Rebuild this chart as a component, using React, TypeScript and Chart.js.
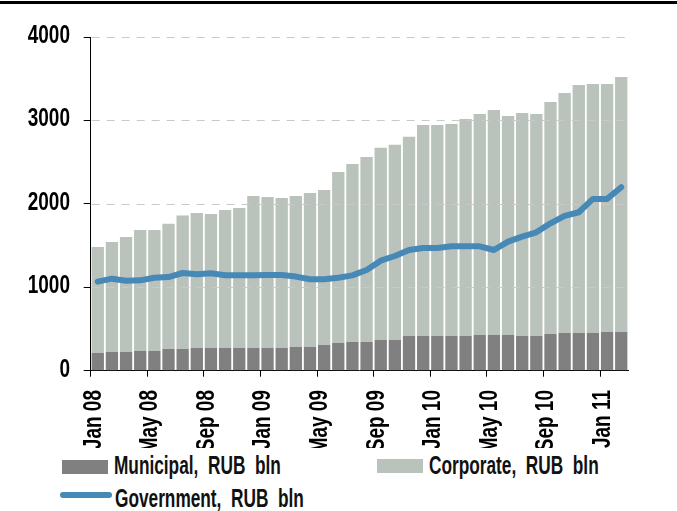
import React, { useEffect, useRef } from "react";
import { Chart, registerables } from "chart.js";

Chart.register(...registerables);

const months = [
  "Jan 08", "Feb 08", "Mar 08", "Apr 08", "May 08", "Jun 08", "Jul 08", "Aug 08", "Sep 08", "Oct 08", "Nov 08", "Dec 08",
  "Jan 09", "Feb 09", "Mar 09", "Apr 09", "May 09", "Jun 09", "Jul 09", "Aug 09", "Sep 09", "Oct 09", "Nov 09", "Dec 09",
  "Jan 10", "Feb 10", "Mar 10", "Apr 10", "May 10", "Jun 10", "Jul 10", "Aug 10", "Sep 10", "Oct 10", "Nov 10", "Dec 10",
  "Jan 11", "Feb 11",
];

const tickLabels = ["Jan 08", "May 08", "Sep 08", "Jan 09", "May 09", "Sep 09", "Jan 10", "May 10", "Sep 10", "Jan 11"];

const yTickValues = [0, 1000, 2000, 3000, 4000];

const municipal = [
  212, 224, 224, 236, 236, 260, 260, 272, 272, 272, 272, 272,
  272, 272, 284, 284, 308, 332, 344, 344, 368, 368, 416, 416,
  416, 416, 416, 428, 428, 428, 416, 416, 440, 452, 452, 452,
  464, 464,
];

const corporate = [
  1271, 1319, 1379, 1451, 1451, 1501, 1599, 1619, 1607, 1655, 1679, 1823,
  1811, 1799, 1811, 1847, 1859, 2051, 2135, 2219, 2303, 2339, 2387, 2530,
  2530, 2542, 2602, 2650, 2698, 2626, 2674, 2662, 2782, 2878, 2974, 2986,
  2974, 3058,
];

const government = [
  1067, 1103, 1079, 1083, 1115, 1123, 1171, 1155, 1167, 1143, 1143, 1143,
  1147, 1147, 1128, 1096, 1096, 1115, 1143, 1207, 1319, 1375, 1447, 1471,
  1471, 1491, 1491, 1491, 1447, 1547, 1607, 1659, 1767, 1855, 1899, 2059,
  2059, 2199,
];

const FONT = "'Liberation Sans', Arial, sans-serif";
const MUNI_COLOR = "#808080";
const CORP_COLOR = "#b9c2bb";
const GOV_COLOR = "#4689b6";

const CANVAS_W = 677;
const CANVAS_H = 448;
const TICK_SCALE = 0.76;

const overGridPlugin = {
  id: "overGrid",
  beforeDatasetDraw(chart: any, args: any) {
    if (args.index !== 0) return;
    const { ctx, chartArea } = chart;
    const y = chart.scales.y;
    ctx.save();
    ctx.strokeStyle = "#c9c9c9";
    ctx.lineWidth = 1;
    ctx.setLineDash([8, 7]);
    for (const v of yTickValues) {
      if (v === 0) continue;
      const py = Math.round(y.getPixelForValue(v)) + 0.5;
      ctx.beginPath();
      ctx.moveTo(chartArea.left + 1, py);
      ctx.lineTo(chartArea.right, py);
      ctx.stroke();
    }
    ctx.restore();
  },
};

const narrowLabelsPlugin = {
  id: "narrowLabels",
  afterDraw(chart: any) {
    const { ctx } = chart;
    const x = chart.scales.x;
    const y = chart.scales.y;
    ctx.save();
    ctx.fillStyle = "#000";
    ctx.font = `bold 25px ${FONT}`;
    ctx.textAlign = "right";
    ctx.textBaseline = "middle";
    for (const v of yTickValues) {
      const py = y.getPixelForValue(v) - 1;
      ctx.save();
      ctx.translate(70, py);
      ctx.scale(TICK_SCALE, 1);
      ctx.fillText(String(v), 0, 0);
      ctx.restore();
    }
    tickLabels.forEach((lab, i) => {
      const px = x.getPixelForValue(i * 4) + 3;
      ctx.save();
      ctx.translate(px, 390);
      ctx.rotate(-Math.PI / 2);
      ctx.scale(TICK_SCALE, 1);
      ctx.textAlign = "right";
      ctx.textBaseline = "middle";
      ctx.fillText(lab, 0, 0);
      ctx.restore();
    });
    ctx.restore();
  },
};

export default function App() {
  const ref = useRef<HTMLCanvasElement | null>(null);

  useEffect(() => {
    if (!ref.current) return;
    const chart = new Chart(ref.current, {
      type: "bar",
      data: {
        datasets: [
          {
            type: "line",
            label: "Government, RUB bln",
            data: government.map((v, i) => ({ x: i + 0.5, y: v })),
            borderColor: GOV_COLOR,
            backgroundColor: GOV_COLOR,
            borderWidth: 6,
            pointRadius: 0,
            tension: 0,
            borderJoinStyle: "round",
            borderCapStyle: "round",
            order: 0,
          } as any,
          {
            type: "bar",
            label: "Municipal, RUB bln",
            data: municipal.map((v, i) => ({ x: i + 0.5, y: v })),
            backgroundColor: MUNI_COLOR,
            stack: "a",
            barPercentage: 1,
            categoryPercentage: 0.87,
            order: 1,
          } as any,
          {
            type: "bar",
            label: "Corporate, RUB bln",
            data: corporate.map((v, i) => ({ x: i + 0.5, y: v })),
            backgroundColor: CORP_COLOR,
            stack: "a",
            barPercentage: 1,
            categoryPercentage: 0.87,
            order: 2,
          } as any,
        ],
      },
      options: {
        animation: false,
        responsive: false,
        devicePixelRatio: 1,
        layout: { padding: { top: 37, right: 48.7, left: 0, bottom: 0 } },
        plugins: { legend: { display: false }, tooltip: { enabled: false } },
        scales: {
          x: {
            type: "linear",
            position: "bottom",
            offset: false,
            min: 0,
            max: months.length,
            afterBuildTicks: (s: any) => {
              s.ticks = tickLabels.map((_, i) => ({ value: i * 4 }));
            },
            afterFit: (s: any) => {
              s.height = CANVAS_H - 370.7;
            },
            ticks: { display: false },
            grid: { drawOnChartArea: false, drawTicks: true, tickLength: 6, color: "#000", offset: false },
            border: { color: "#000", width: 1 },
          } as any,
          y: {
            min: 0,
            max: 4000,
            afterBuildTicks: (s: any) => {
              s.ticks = yTickValues.map((v) => ({ value: v }));
            },
            afterFit: (s: any) => {
              s.width = 90.7;
            },
            ticks: { display: false },
            grid: { drawOnChartArea: false, drawTicks: true, tickLength: 7, color: "#000" },
            border: { color: "#000", width: 1 },
          } as any,
        },
      },
      plugins: [overGridPlugin, narrowLabelsPlugin],
    });
    return () => chart.destroy();
  }, []);

  const textStyle: React.CSSProperties = {
    position: "absolute",
    fontFamily: FONT,
    fontSize: 25,
    fontWeight: "bold",
    lineHeight: "25px",
    color: "#111",
    whiteSpace: "pre",
    transform: "scaleX(0.69)",
    transformOrigin: "left center",
    wordSpacing: 7,
  };

  return (
    <div style={{ position: "fixed", left: 0, top: 0, width: 677, height: 511, background: "#fff", overflow: "hidden" }}>
      <div style={{ position: "absolute", left: 0, top: 1, width: 677, height: 3, background: "#000" }} />
      <canvas ref={ref} width={CANVAS_W} height={CANVAS_H} style={{ position: "absolute", left: 0, top: 0, width: CANVAS_W, height: CANVAS_H }} />
      <div style={{ position: "absolute", left: 62, top: 460, width: 46, height: 14, background: MUNI_COLOR }} />
      <div style={{ ...textStyle, left: 114, top: 453 }}>Municipal, RUB bln</div>
      <div style={{ position: "absolute", left: 377, top: 459, width: 46, height: 14, background: CORP_COLOR }} />
      <div style={{ ...textStyle, left: 429, top: 453 }}>Corporate, RUB bln</div>
      <div style={{ position: "absolute", left: 60, top: 492, width: 52, height: 6, borderRadius: 3, background: GOV_COLOR }} />
      <div style={{ ...textStyle, left: 115, top: 486 }}>Government, RUB bln</div>
    </div>
  );
}
